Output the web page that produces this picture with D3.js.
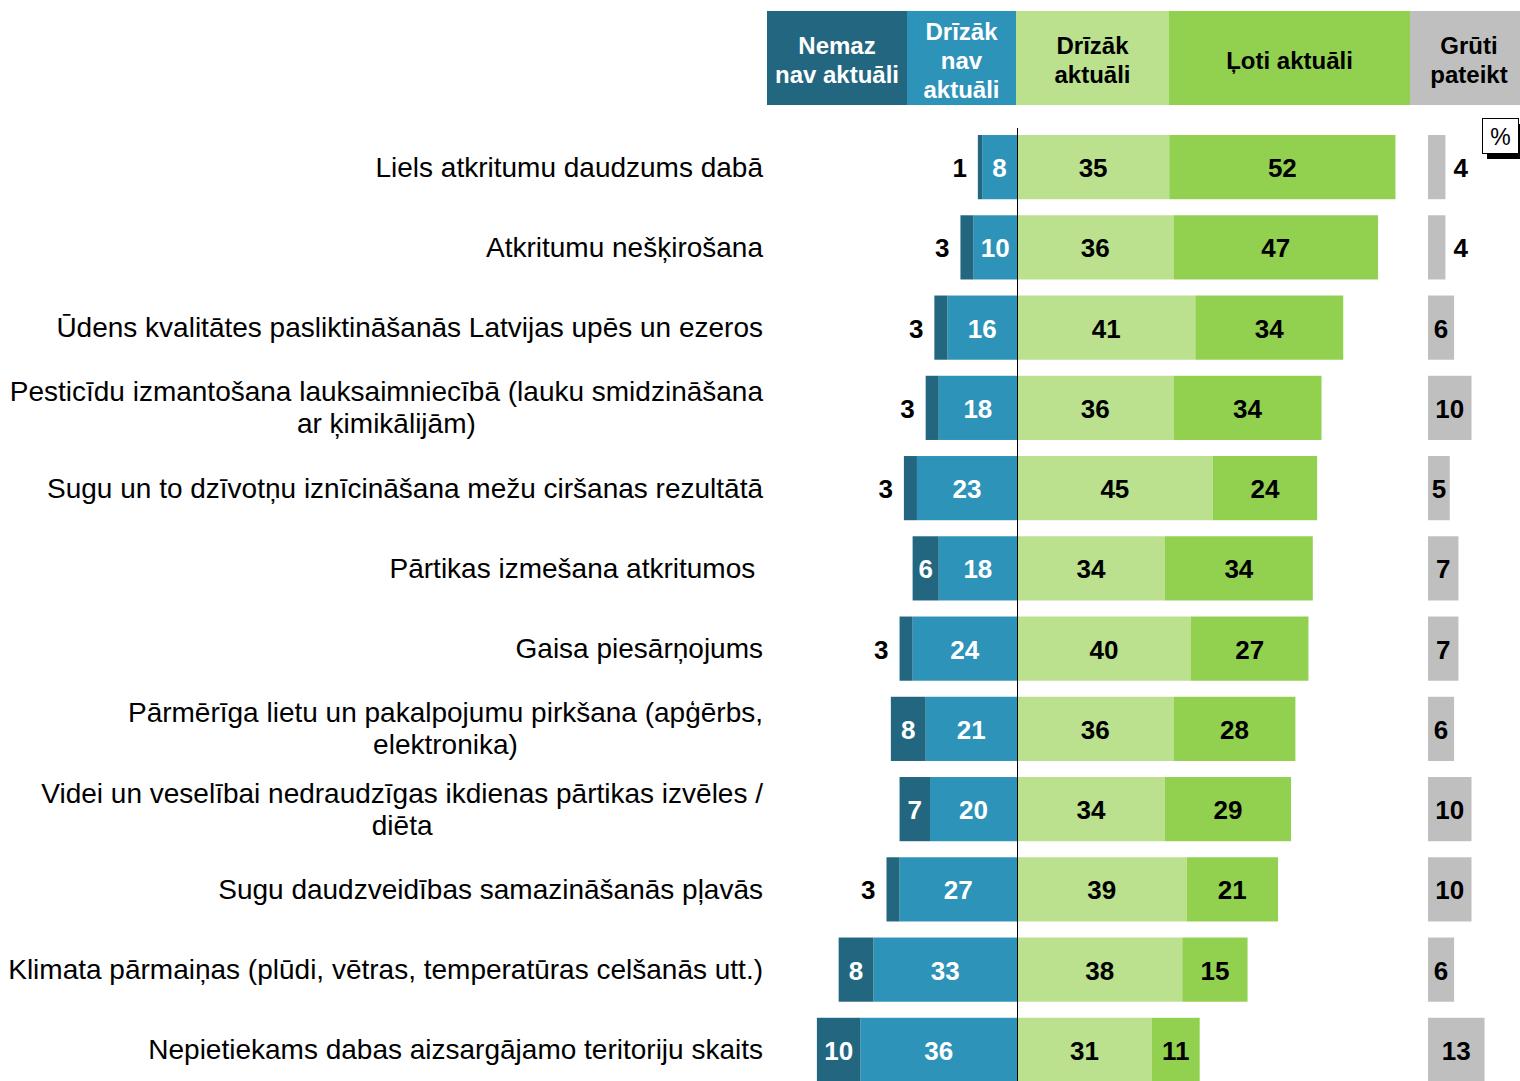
<!DOCTYPE html>
<html><head><meta charset="utf-8">
<script src="https://cdn.jsdelivr.net/npm/d3@7"></script>
<style>
html,body{margin:0;padding:0;background:#fff;}
svg{display:block;font-family:"Liberation Sans",Arial,sans-serif;}
</style></head>
<body>
<svg id="c" width="1520" height="1081"></svg>
<script>
const categories = [
  ["Liels atkritumu daudzums dabā"],
  ["Atkritumu nešķirošana"],
  ["Ūdens kvalitātes pasliktināšanās Latvijas upēs un ezeros"],
  ["Pesticīdu izmantošana lauksaimniecībā (lauku smidzināšana","ar ķimikālijām)"],
  ["Sugu un to dzīvotņu iznīcināšana mežu ciršanas rezultātā"],
  ["Pārtikas izmešana atkritumos "],
  ["Gaisa piesārņojums"],
  ["Pārmērīga lietu un pakalpojumu pirkšana (apģērbs,","elektronika)"],
  ["Videi un veselībai nedraudzīgas ikdienas pārtikas izvēles /","diēta"],
  ["Sugu daudzveidības samazināšanās pļavās"],
  ["Klimata pārmaiņas (plūdi, vētras, temperatūras celšanās utt.)"],
  ["Nepietiekams dabas aizsargājamo teritoriju skaits"]
];
const nemaz    = [1,3,3,3,3,6,3,8,7,3,8,10];
const drizNav  = [8,10,16,18,23,18,24,21,20,27,33,36];
const drizAkt  = [35,36,41,36,45,34,40,36,34,39,38,31];
const loti     = [52,47,34,34,24,34,27,28,29,21,15,11];
const gruti    = [4,4,6,10,5,7,7,6,10,10,6,13];
const headerLabels = [
  ["Nemaz","nav aktuāli"],
  ["Drīzāk","nav","aktuāli"],
  ["Drīzāk","aktuāli"],
  ["Ļoti aktuāli"],
  ["Grūti","pateikt"]
];
const colors = ["#22677F","#2E93B8","#BBE08E","#92D050","#BFBFBF"];
const textColors = ["#fff","#fff","#000","#000","#000"];

const svg = d3.select("#c");
const cx = 1017, k = 4.35, grayX = 1428;
const idx = d3.range(categories.length);
const y = d3.scaleBand().domain(idx).range([127,1090]).paddingInner(0.2).paddingOuter(0.1);
const xr = d3.scaleLinear().domain([0,100]).range([cx, cx + 100*k]);
const xl = d3.scaleLinear().domain([0,100]).range([cx, cx - 100*k]);
const xg = d3.scaleLinear().domain([0,100]).range([grayX, grayX + 100*k]);

// header
const hx = [767,907,1016,1169,1410,1528];
const hTop = 11, hBot = 105;
headerLabels.forEach((lines,i)=>{
  svg.append("rect").attr("x",hx[i]).attr("y",hTop).attr("width",hx[i+1]-hx[i]).attr("height",hBot-hTop).attr("fill",colors[i]);
  const lh = 29, mid = (hTop+hBot)/2 + 2;
  const t = svg.append("text").attr("text-anchor","middle").attr("font-weight","bold").attr("font-size",24).attr("fill",textColors[i]);
  lines.forEach((l,j)=>{
    t.append("tspan").attr("x",(hx[i]+hx[i+1])/2).attr("y", mid + (j-(lines.length-1)/2)*lh).attr("dominant-baseline","central").text(l);
  });
});

const bw = y.bandwidth();
const fs = 26;

function label(x, yc, txt, fill, anchor){
  svg.append("text").attr("x",x).attr("y",yc).attr("text-anchor",anchor||"middle")
    .attr("dominant-baseline","central").attr("font-weight","bold").attr("font-size",fs).attr("fill",fill).text(txt);
}

idx.forEach(i=>{
  const y0 = y(i), yc = y0 + bw/2 + 1;
  const a = drizNav[i], b = nemaz[i];
  svg.append("rect").attr("x",xl(a)).attr("y",y0).attr("width",xl(0)-xl(a)).attr("height",bw).attr("fill",colors[1]);
  svg.append("rect").attr("x",xl(a+b)).attr("y",y0).attr("width",xl(a)-xl(a+b)).attr("height",bw).attr("fill",colors[0]);
  label((xl(0)+xl(a))/2, yc, a, "#fff");
  if (b >= 5) label((xl(a)+xl(a+b))/2, yc, b, "#fff");
  else label(xl(a+b)-11, yc, b, "#000", "end");
  const c = drizAkt[i], d = loti[i];
  svg.append("rect").attr("x",xr(0)).attr("y",y0).attr("width",xr(c)-xr(0)).attr("height",bw).attr("fill",colors[2]);
  svg.append("rect").attr("x",xr(c)).attr("y",y0).attr("width",xr(c+d)-xr(c)).attr("height",bw).attr("fill",colors[3]);
  label((xr(0)+xr(c))/2, yc, c, "#000");
  label((xr(c)+xr(c+d))/2, yc, d, "#000");
  const g = gruti[i];
  svg.append("rect").attr("x",xg(0)).attr("y",y0).attr("width",xg(g)-xg(0)).attr("height",bw).attr("fill",colors[4]);
  if (g >= 5) label((xg(0)+xg(g))/2, yc, g, "#000");
  else label(xg(g)+8, yc, g, "#000", "start");
  const lines = categories[i];
  const t = svg.append("text").attr("font-size",28).attr("fill","#000").style("white-space","pre");
  if (lines.length === 1) {
    t.append("tspan").attr("x",763).attr("y",yc-1).attr("text-anchor","end").attr("dominant-baseline","central").text(lines[0]);
  } else {
    const tmp = svg.append("text").attr("font-size",28).text(lines[0]);
    const w = tmp.node().getComputedTextLength(); tmp.remove();
    const mx = 763 - w/2;
    lines.forEach((l,j)=>{
      t.append("tspan").attr("x",mx).attr("y",yc-1+(j-(lines.length-1)/2)*32).attr("text-anchor","middle").attr("dominant-baseline","central").text(l);
    });
  }
});

svg.append("line").attr("x1",cx+0.5).attr("x2",cx+0.5).attr("y1",128).attr("y2",1081).attr("stroke","#000").attr("stroke-width",1);

svg.append("rect").attr("x",1487).attr("y",124).attr("width",40).attr("height",35).attr("fill","#000");
svg.append("rect").attr("x",1482.5).attr("y",118.5).attr("width",36).attr("height",35).attr("fill","#fff").attr("stroke","#000").attr("stroke-width",1);
svg.append("text").attr("x",1500.5).attr("y",137).attr("text-anchor","middle").attr("dominant-baseline","central").attr("font-size",23).text("%");
</script>
</body></html>
